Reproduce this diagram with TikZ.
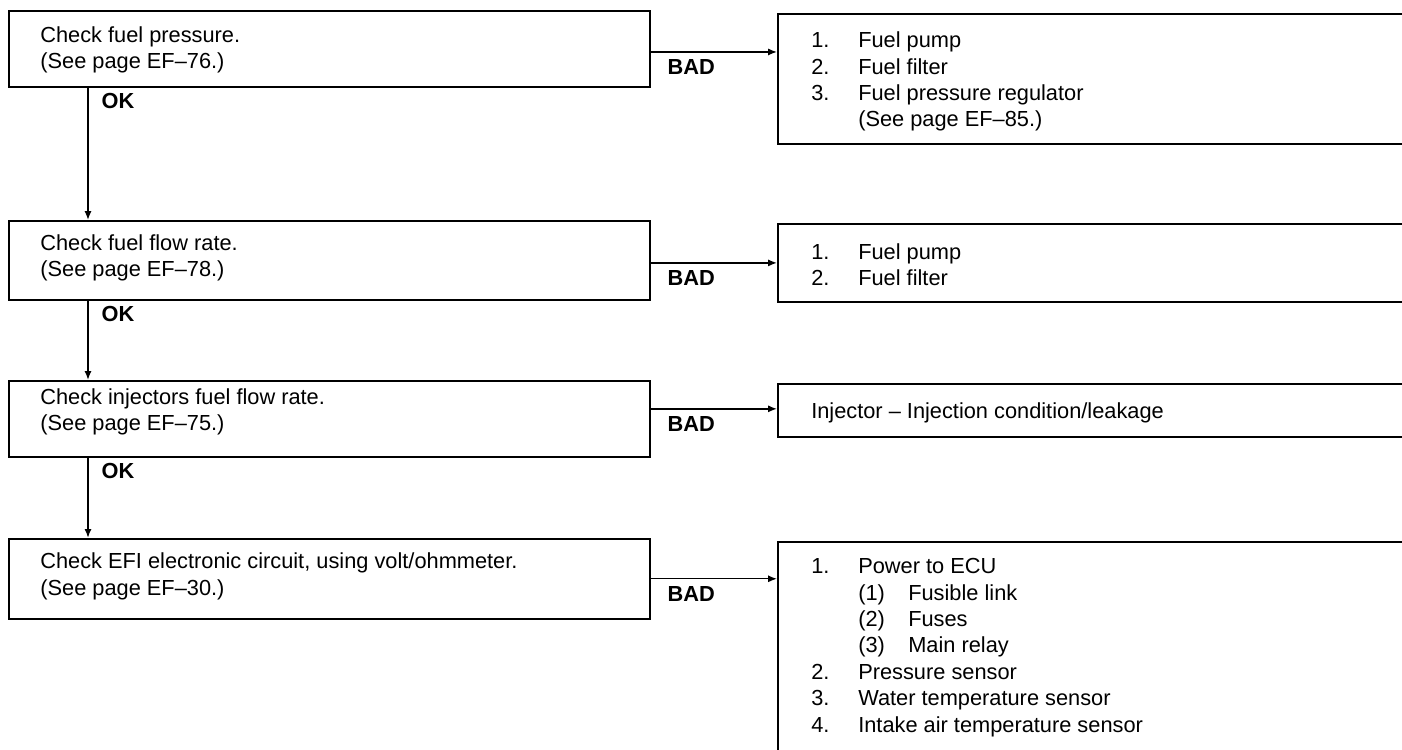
\documentclass[tikz,border=0pt]{standalone}
\usepackage{fontspec}
\setmainfont{Liberation Sans}
\usepackage{tikz}
\usetikzlibrary{arrows.meta, positioning}
\newcommand{\chkfont}{\fontsize{12.4}{15}\selectfont}
\newcommand{\listno}[1]{\makebox[0.94cm][l]{#1}}
\newcommand{\subno}[1]{\makebox[1.0cm][l]{#1}}
\tikzset{
  chkbox/.style={rectangle, draw=black, line width=1.1pt, minimum width=12.82cm,
    anchor=north west},
  fixbox/.style={rectangle, draw=black, line width=1.1pt, minimum width=12.9cm,
    anchor=north west},
  boxtext/.style={inner sep=0pt, align=left, font=\chkfont, anchor=north west},
  arrow/.style={-{Latex[length=5pt,width=4pt]}, line width=0.8pt},
  verdict/.style={font=\chkfont\bfseries, inner sep=0pt, anchor=north west}
}

\begin{document}
\begin{tikzpicture}
  \useasboundingbox (0,0) rectangle (28.04,-14.98);
  \clip (0,0) rectangle (28.04,-14.98);

  % checks on the left
  \node[chkbox, minimum height=1.52cm] (lb1) at (0.16,-0.2) {};
  \node[chkbox, minimum height=1.58cm, below=2.64cm of lb1] (lb2) {};
  \node[chkbox, minimum height=1.52cm, below=1.58cm of lb2] (lb3) {};
  \node[chkbox, minimum height=1.6cm, below=1.6cm of lb3] (lb4) {};
  \node[boxtext] (lt1) at ([shift={(0.64cm,-0.32cm)}]lb1.north west)
    {Check fuel pressure.\\(See page EF–76.)};
  \node[boxtext] (lt2) at ([shift={(0.64cm,-0.28cm)}]lb2.north west)
    {Check fuel flow rate.\\(See page EF–78.)};
  \node[boxtext] (lt3) at ([shift={(0.64cm,-0.16cm)}]lb3.north west)
    {Check injectors fuel flow rate.\\(See page EF–75.)};
  \node[boxtext] (lt4) at ([shift={(0.64cm,-0.3cm)}]lb4.north west)
    {Check EFI electronic circuit, using volt/ohmmeter.\\(See page EF–30.)};

  % parts to repair on the right
  \node[fixbox, minimum height=2.6cm] (rb1) at ([xshift=2.52cm,yshift=-0.06cm]lb1.north east) {};
  \node[boxtext] (rt1) at ([shift={(0.68cm,-0.37cm)}]rb1.north west)
    {\listno{1.}Fuel pump\\ \listno{2.}Fuel filter\\ \listno{3.}Fuel pressure regulator\\ \listno{}(See page EF–85.)};
  \node[fixbox, minimum height=1.56cm] (rb2) at ([xshift=2.52cm,yshift=-0.06cm]lb2.north east) {};
  \node[boxtext] (rt2) at ([shift={(0.68cm,-0.4cm)}]rb2.north west)
    {\listno{1.}Fuel pump\\ \listno{2.}Fuel filter};
  \node[fixbox, minimum height=1.06cm] (rb3) at ([xshift=2.52cm,yshift=-0.06cm]lb3.north east) {};
  \node[boxtext] (rt3) at ([shift={(0.68cm,-0.38cm)}]rb3.north west)
    {Injector – Injection condition/leakage};
  \node[fixbox, minimum height=5cm] (rb4) at ([xshift=2.52cm,yshift=-0.06cm]lb4.north east) {};
  \node[boxtext] (rt4) at ([shift={(0.68cm,-0.35cm)}]rb4.north west)
    {\listno{1.}Power to ECU\\ \listno{}\subno{(1)}Fusible link\\ \listno{}\subno{(2)}Fuses\\
     \listno{}\subno{(3)}Main relay\\ \listno{2.}Pressure sensor\\ \listno{3.}Water temperature sensor\\
     \listno{4.}Intake air temperature sensor};

  % OK arrows
  \draw[arrow] ([xshift=1.6cm]lb1.south west) -- ([xshift=1.6cm]lb2.north west)
    node[verdict, pos=0, xshift=0.26cm, yshift=-0.1cm] {OK};
  \draw[arrow] ([xshift=1.6cm]lb2.south west) -- ([xshift=1.6cm]lb3.north west)
    node[verdict, pos=0, xshift=0.26cm, yshift=-0.1cm] {OK};
  \draw[arrow] ([xshift=1.6cm]lb3.south west) -- ([xshift=1.6cm]lb4.north west)
    node[verdict, pos=0, xshift=0.26cm, yshift=-0.1cm] {OK};

  % BAD arrows
  \coordinate (b1) at ([yshift=-0.06cm]lb1.east);
  \coordinate (b2) at ([yshift=-0.05cm]lb2.east);
  \coordinate (b3) at ([yshift=0.2cm]lb3.east);
  \coordinate (b4) at (lb4.east);
  \draw[arrow] (b1) -- (b1 -| rb1.west) node[verdict, pos=0, xshift=0.32cm, yshift=-0.14cm] {BAD};
  \draw[arrow] (b2) -- (b2 -| rb2.west) node[verdict, pos=0, xshift=0.32cm, yshift=-0.14cm] {BAD};
  \draw[arrow] (b3) -- (b3 -| rb3.west) node[verdict, pos=0, xshift=0.32cm, yshift=-0.14cm] {BAD};
  \draw[arrow] (b4) -- (b4 -| rb4.west) node[verdict, pos=0, xshift=0.32cm, yshift=-0.14cm] {BAD};
\end{tikzpicture}
\end{document}
